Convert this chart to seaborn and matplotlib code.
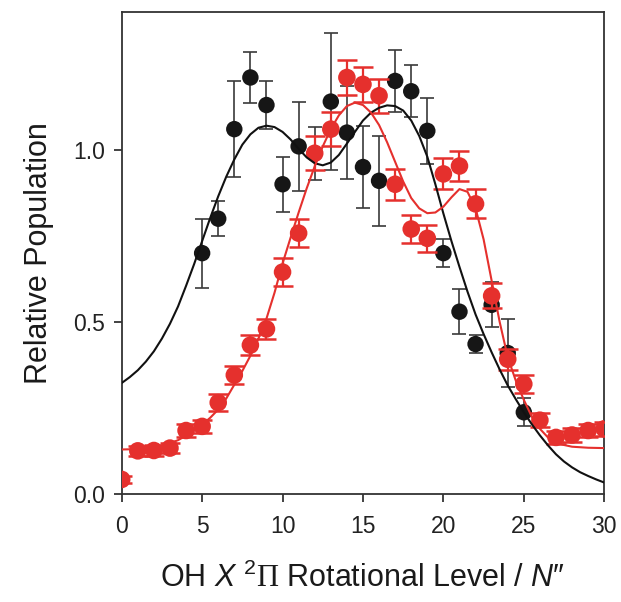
import numpy as np
import pandas as pd
import matplotlib
matplotlib.use("Agg")
import matplotlib.pyplot as plt
import seaborn as sns

# ---- data ----
N_black = [5, 6, 7, 8, 9, 10, 11, 12, 13, 14, 15, 16, 17, 18, 19, 20, 21, 22, 23, 24, 25]
black_vals = [0.70, 0.80, 1.06, 1.21, 1.13, 0.90, 1.01, 0.99, 1.14, 1.05, 0.95, 0.91,
              1.20, 1.17, 1.055, 0.70, 0.53, 0.436, 0.55, 0.41, 0.238]
black_err = [0.10, 0.05, 0.14, 0.075, 0.07, 0.08, 0.13, 0.077, 0.20, 0.135, 0.12, 0.13,
             0.09, 0.075, 0.095, 0.04, 0.065, 0.025, 0.065, 0.10, 0.04]

N_red = list(range(0, 31))
red_vals = [0.043, 0.126, 0.127, 0.134, 0.185, 0.197, 0.266, 0.346, 0.433, 0.48, 0.645,
            0.758, 0.99, 1.06, 1.21, 1.19, 1.157, 0.90, 0.77, 0.743, 0.93, 0.953, 0.843,
            0.576, 0.392, 0.32, 0.215, 0.165, 0.172, 0.185, 0.19]
red_err = [0.01, 0.015, 0.015, 0.015, 0.02, 0.02, 0.025, 0.027, 0.03, 0.03, 0.04, 0.04,
           0.05, 0.05, 0.05, 0.05, 0.05, 0.045, 0.04, 0.04, 0.045, 0.045, 0.042, 0.036,
           0.03, 0.027, 0.02, 0.02, 0.02, 0.02, 0.02]

# fitted curves
fit_black_N = [0, 0.5, 1, 1.5, 2, 2.5, 3, 3.5, 4, 4.5, 5, 5.5, 6, 6.5, 7, 7.5, 8, 8.5, 9,
               9.5, 10, 10.5, 11, 11.5, 12, 12.5, 13, 13.5, 14, 14.5, 15, 15.5, 16, 16.5,
               17, 17.5, 18, 18.5, 19, 19.5, 20, 20.5, 21, 21.5, 22, 22.5, 23, 23.5, 24,
               24.5, 25, 25.5, 26, 26.5, 27, 27.5, 28, 28.5, 29, 29.5, 30]
fit_black = [0.323, 0.34, 0.36, 0.385, 0.415, 0.452, 0.495, 0.545, 0.605, 0.668, 0.735,
             0.802, 0.865, 0.922, 0.972, 1.015, 1.045, 1.064, 1.07, 1.066, 1.052, 1.03,
             1.003, 0.978, 0.961, 0.955, 0.963, 0.985, 1.018, 1.052, 1.085, 1.108, 1.122,
             1.129, 1.127, 1.114, 1.085, 1.04, 0.98, 0.9, 0.815, 0.735, 0.66, 0.588, 0.522,
             0.465, 0.412, 0.362, 0.316, 0.276, 0.238, 0.203, 0.171, 0.142, 0.116, 0.095,
             0.078, 0.064, 0.053, 0.043, 0.034]

fit_red_N = [0, 1, 1.5, 2, 2.5, 3, 3.5, 4, 4.5, 5, 5.5, 6, 6.5, 7, 7.5, 8, 8.5, 9, 9.5,
             10, 10.5, 11, 11.5, 12, 12.5, 13, 13.5, 14, 14.5, 15, 15.5, 16, 16.5, 17,
             17.5, 18, 18.5, 19, 19.5, 20, 20.5, 21, 21.5, 22, 22.5, 23, 23.5, 24, 24.5,
             25, 25.5, 26, 26.5, 27, 27.5, 28, 29, 30]
fit_red = [0.13, 0.131, 0.133, 0.136, 0.141, 0.148, 0.157, 0.17, 0.185, 0.202, 0.222,
           0.246, 0.278, 0.318, 0.358, 0.402, 0.452, 0.51, 0.585, 0.67, 0.745, 0.818,
           0.888, 0.952, 1.01, 1.06, 1.1, 1.127, 1.137, 1.13, 1.108, 1.072, 1.022, 0.965,
           0.908, 0.86, 0.83, 0.816, 0.818, 0.835, 0.862, 0.886, 0.878, 0.83, 0.74, 0.62,
           0.50, 0.398, 0.33, 0.274, 0.225, 0.19, 0.165, 0.151, 0.143, 0.138, 0.135, 0.134]

x_ticks = [0, 5, 10, 15, 20, 25, 30]
y_ticks = [0.0, 0.5, 1.0]

# ---- styling ----
sns.set_theme(style="ticks")
plt.rcParams["font.family"] = ["Liberation Sans", "DejaVu Sans"]
plt.rcParams["mathtext.fontset"] = "custom"
plt.rcParams["mathtext.rm"] = "Liberation Sans"
plt.rcParams["mathtext.it"] = "Liberation Sans:italic"
plt.rcParams["mathtext.bf"] = "Liberation Serif"

BLACK = "#161616"
RED = "#e5302d"

fig = plt.figure(figsize=(6.21, 6.02), dpi=100)
ax = fig.add_axes([0.196, 0.179, 0.777, 0.801])

df_b = pd.DataFrame({"N": N_black, "pop": black_vals})
df_r = pd.DataFrame({"N": N_red, "pop": red_vals})
df_fb = pd.DataFrame({"N": fit_black_N, "pop": fit_black})
df_fr = pd.DataFrame({"N": fit_red_N, "pop": fit_red})

ax.errorbar(N_black, black_vals, yerr=black_err, fmt="none", ecolor="#3a3a3a",
            elinewidth=1.2, capsize=4.7, capthick=1.2, zorder=2)
sns.scatterplot(data=df_b, x="N", y="pop", ax=ax, color=BLACK, s=140,
                edgecolor="none", zorder=3, legend=False)
ax.errorbar(N_red, red_vals, yerr=red_err, fmt="none", ecolor=RED,
            elinewidth=1.6, capsize=7.2, capthick=1.8, zorder=4)
sns.scatterplot(data=df_r, x="N", y="pop", ax=ax, color=RED, s=160,
                edgecolor="none", zorder=5, legend=False)
sns.lineplot(data=df_fb, x="N", y="pop", ax=ax, color="#111111", linewidth=1.5,
             zorder=6, legend=False)
sns.lineplot(data=df_fr, x="N", y="pop", ax=ax, color=RED, linewidth=1.5,
             zorder=7, legend=False)

ax.set_xlim(0, 30)
ax.set_ylim(0, 1.4)
ax.set_xticks(x_ticks)
ax.set_xticklabels([str(t) for t in x_ticks])
ax.set_yticks(y_ticks)
ax.set_yticklabels([f"{t:.1f}" for t in y_ticks])
ax.tick_params(axis="both", direction="out", length=6, width=1.2, labelsize=16.5,
               colors="#222222", pad=6)
ax.tick_params(axis="x", pad=9)
for sp in ax.spines.values():
    sp.set_visible(True)
    sp.set_linewidth(1.3)
    sp.set_color("#333333")

ax.set_xlabel(r"OH $\mathit{X}$ $^{2}\mathbf{\Pi}$ Rotational Level / $\mathit{N}$″",
              fontsize=22, color="#1a1a1a", labelpad=18)
ax.set_ylabel("Relative Population", fontsize=22, color="#1a1a1a", labelpad=14)

fig.savefig("out.png", dpi=100)
